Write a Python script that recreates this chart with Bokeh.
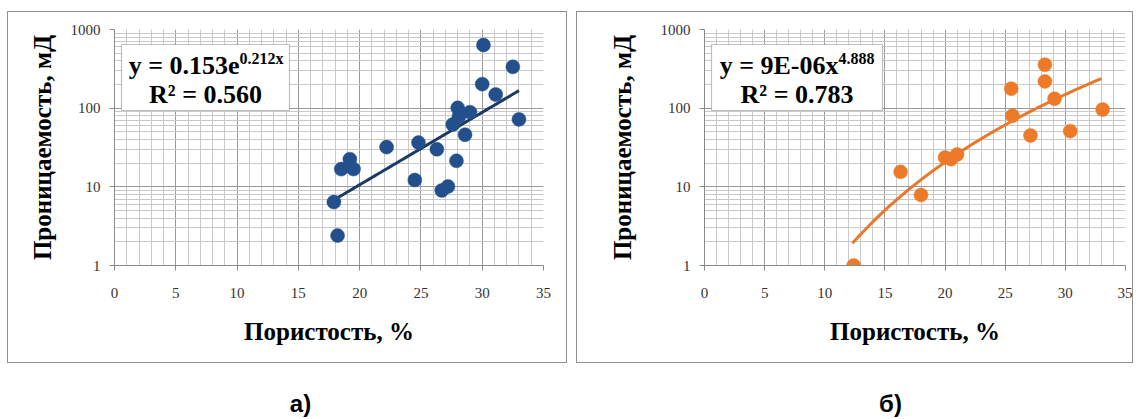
import numpy as np
from bokeh.plotting import figure
from bokeh.layouts import row, column
from bokeh.models import Range1d, FixedTicker, Label, BoxAnnotation, NumeralTickFormatter
from bokeh.embed import file_html
from bokeh.resources import INLINE

# ---- data: porosity (%) vs permeability (mD) ----
# panel а) – exponential trend
por_a = [17.9, 18.2, 18.5, 19.2, 19.5, 22.2, 24.5, 24.8, 26.3, 26.7, 27.2,
         27.6, 27.9, 28.0, 28.1, 28.6, 29.0, 30.0, 30.1, 31.1, 32.5, 33.0]
perm_a = [6.4, 2.4, 16.8, 22.5, 16.8, 32.0, 12.2, 36.5, 30.0, 9.0, 10.1,
          62.0, 21.4, 101.0, 78.0, 46.0, 89.0, 202.0, 635.0, 149.0, 335.0, 72.0]
coef_a, rate_a = 0.153, 0.212
r2_a = "0.560"

# panel б) – power-law trend
por_b = [12.4, 16.3, 18.0, 20.0, 20.5, 21.0, 25.5, 25.6, 27.1, 28.3, 28.3,
         29.1, 30.4, 33.1]
perm_b = [1.0, 15.5, 7.9, 23.6, 22.5, 25.8, 177.0, 80.0, 45.0, 219.0, 357.0,
          132.0, 51.0, 96.0]
coef_b, power_b = 9e-06, 4.888
r2_b = "0.783"

x_major = [0, 5, 10, 15, 20, 25, 30, 35]
y_major = [1, 10, 100, 1000]

x_title = "Пористость, %"
y_title = "Проницаемость, мД"
tags = ["а)", "б)"]

SERIF = "Liberation Serif"
PANEL_H = 352


def make_panel(px, py, trend_x, trend_y, color, line_color, eq_main, eq_sup,
               r2, geo):
    w = geo["w"]
    p = figure(width=w, height=PANEL_H, output_backend="svg", toolbar_location=None,
               y_axis_type="log", x_range=Range1d(0, 35), y_range=Range1d(1, 1000),
               min_border_left=geo["fl"], min_border_right=w - geo["fr"],
               min_border_top=geo["ft"], min_border_bottom=PANEL_H - geo["fb"])
    p.outline_line_color = None
    p.background_fill_color = "white"
    p.border_fill_color = "white"
    p.styles = {"border": "1px solid #8F8F8F"}
    p.margin = geo["margin"]

    x_minor = list(range(x_major[0], x_major[-1] + 1))
    y_minor = [d * k for d in y_major[:-1] for k in range(2, 10)]
    xt = FixedTicker(ticks=x_major, minor_ticks=x_minor)
    yt = FixedTicker(ticks=y_major, minor_ticks=y_minor)
    p.xaxis.ticker = xt
    p.yaxis.ticker = yt
    p.xgrid.ticker = xt
    p.ygrid.ticker = yt
    p.yaxis.formatter = NumeralTickFormatter(format="0")

    for g in (p.xgrid, p.ygrid):
        g.grid_line_color = "#9A9A9A"
        g.grid_line_width = 1
        g.minor_grid_line_color = "#C9C9C9"
        g.minor_grid_line_width = 1

    p.axis.axis_line_color = "#8A8A8A"
    p.axis.major_tick_line_color = "#8A8A8A"
    p.axis.major_tick_out = 5
    p.axis.major_tick_in = 0
    p.axis.minor_tick_out = 0
    p.axis.minor_tick_in = 0
    p.axis.major_label_text_font = SERIF
    p.axis.major_label_text_font_size = "15px"
    p.axis.major_label_text_color = "#333333"
    p.xaxis.major_label_standoff = 17
    p.yaxis.major_label_standoff = 9

    p.xaxis.axis_label = x_title
    p.yaxis.axis_label = y_title
    p.axis.axis_label_text_font = SERIF
    p.axis.axis_label_text_font_style = "bold"
    p.axis.axis_label_text_font_size = "25px"
    p.axis.axis_label_text_color = "black"
    p.xaxis.axis_label_standoff = 17
    p.yaxis.axis_label_standoff = geo["ystand"]

    # trend line and measurements
    p.line(trend_x, trend_y, line_color=line_color, line_width=3)
    p.scatter(px, py, size=14, fill_color=color, line_color=color, line_width=0.5)

    # equation box
    el, er = geo["el"], geo["er"]
    p.add_layout(BoxAnnotation(left=el, right=er, top=31, bottom=97,
                               left_units="canvas", right_units="canvas",
                               top_units="canvas", bottom_units="canvas",
                               fill_color="white", fill_alpha=1.0,
                               line_color="#333333", line_width=1.2))
    p.add_layout(Label(x=geo["split"], y=52, x_units="canvas", y_units="canvas",
                       text=eq_main, text_font=SERIF, text_font_style="bold",
                       text_font_size="26px", text_align="right",
                       text_baseline="middle", text_color="black"))
    p.add_layout(Label(x=geo["split"], y=45, x_units="canvas", y_units="canvas",
                       text=eq_sup, text_font=SERIF, text_font_style="bold",
                       text_font_size="16px", text_align="left",
                       text_baseline="middle", text_color="black"))
    p.add_layout(Label(x=(el + er) / 2, y=81, x_units="canvas",
                       y_units="canvas", text="R² = " + r2, text_font=SERIF,
                       text_font_style="bold", text_font_size="26px",
                       text_align="center", text_baseline="middle",
                       text_color="black"))
    return p


tx_a = np.linspace(17.9, 33.0, 60)
ty_a = coef_a * np.exp(rate_a * tx_a)
tx_b = np.linspace(12.3, 33.0, 80)
ty_b = coef_b * tx_b ** power_b

# geometry in each panel's own pixels (panel а at x=7, panel б at x=578, both at y=11)
geo_a = dict(w=560, fl=106, fr=535, ft=17, fb=254, el=112, er=280,
             split=230, ystand=12, margin=(11, 0, 0, 7))
geo_b = dict(w=557, fl=127, fr=548, ft=16, fb=253, el=133, er=304,
             split=260, ystand=22, margin=(11, 0, 0, 9))

p1 = make_panel(por_a, perm_a, tx_a, ty_a, "#23508C", "#1B3A66",
                "y = 0.153e", "0.212x", r2_a, geo_a)
p2 = make_panel(por_b, perm_b, tx_b, ty_b, "#EC7A28", "#E8792C",
                "y = 9E-06x", "4.888", r2_b, geo_b)

# strip with the panel captions
cap = figure(width=1140, height=54, output_backend="svg", toolbar_location=None,
             x_range=Range1d(0, 1140), y_range=Range1d(0, 54),
             x_axis_location=None, y_axis_location=None, min_border=0)
cap.outline_line_color = None
cap.xgrid.visible = False
cap.ygrid.visible = False
for tx, tag in zip([300, 890], tags):
    cap.add_layout(Label(x=tx, y=40, x_units="canvas", y_units="canvas",
                         text=tag, text_font="Liberation Sans",
                         text_font_style="bold", text_font_size="24px",
                         text_align="center", text_baseline="middle",
                         text_color="black"))

layout = column(row(p1, p2, spacing=0), cap, spacing=0)
open("out.html", "w").write(file_html(layout, INLINE))
